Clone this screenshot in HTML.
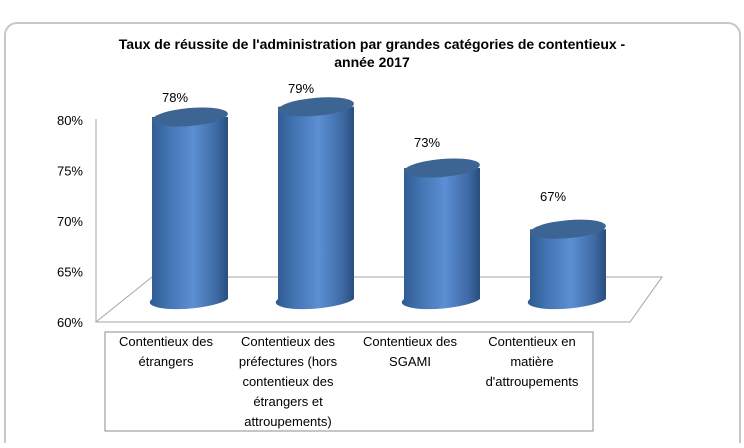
<!DOCTYPE html>
<html><head><meta charset="utf-8"><style>
body{margin:0;background:#fff;width:744px;height:443px;overflow:hidden;font-family:"Liberation Sans",sans-serif}
</style></head><body>
<svg width="744" height="443" viewBox="0 0 744 443">
<defs>
<linearGradient id="cyl" x1="0" x2="1" y1="0" y2="0">
<stop offset="0" stop-color="#2e5a8e"/><stop offset="0.25" stop-color="#4475b4"/><stop offset="0.55" stop-color="#5b8fd3"/><stop offset="0.85" stop-color="#3e6aa4"/><stop offset="1" stop-color="#294e7d"/>
</linearGradient>
</defs>
<rect x="5" y="23" width="735" height="440" rx="12" fill="#fff" stroke="#c8c8c8" stroke-width="2"/>
<text x="372" y="49" text-anchor="middle" font-size="14" font-weight="bold">Taux de réussite de l'administration par grandes catégories de contentieux -</text>
<text x="372" y="67" text-anchor="middle" font-size="14" font-weight="bold">année 2017</text>
<g id="axis"></g>
<polygon points="96,322 630,322 662,277 152,277" fill="none" stroke="#a6a6a6"/>
<line x1="96" y1="119" x2="96" y2="322" stroke="#a6a6a6"/>
<g id="bars"></g>
<rect x="105" y="332" width="488" height="99" fill="none" stroke="#8c8c8c"/>
<g id="cats"></g>
</svg>
<script>
const categories=[["Contentieux des","étrangers"],["Contentieux des","préfectures (hors","contentieux des","étrangers et","attroupements)"],["Contentieux des","SGAMI"],["Contentieux en","matière","d'attroupements"]];
const values=[78,79,73,67];
const ticks=[60,65,70,75,80];
const ns="http://www.w3.org/2000/svg";
const y=v=>117-(v-78)*10.2;
const xc=i=>190+i*126;
const bottom=299;
function mk(t,a,p){const e=document.createElementNS(ns,t);for(const k in a)e.setAttribute(k,a[k]);p.appendChild(e);return e;}
const ax=document.getElementById('axis');
ticks.forEach(t=>{const e=mk('text',{x:83,y:(322-(t-60)*10.1)+5,'text-anchor':'end','font-size':13},ax);


e.textContent=t+'%';});
const bars=document.getElementById('bars');
values.forEach((v,i)=>{const g=mk('g',{},bars);


const cx=xc(i),w=38,ty=y(v);
mk('path',{d:`M${cx-w},${ty} L${cx-w},${bottom} A${w},9 -5 0 0 ${cx+w},${bottom} L${cx+w},${ty} Z`,fill:'url(#cyl)'},g);
mk('ellipse',{cx:cx,cy:ty,rx:w,ry:9,fill:'#3d6594',transform:`rotate(-5 ${cx} ${ty})`},g);
const l=mk('text',{x:cx-15,y:ty-14-(79-v)*1.2,'text-anchor':'middle','font-size':13},bars);


l.textContent=v+'%';});
const cats=document.getElementById('cats');
categories.forEach((c,i)=>{c.forEach((s,j)=>{const e=mk('text',{x:166+i*122,y:346+j*20,'text-anchor':'middle','font-size':13},cats);


e.textContent=s;});});
</script>
</body></html>
